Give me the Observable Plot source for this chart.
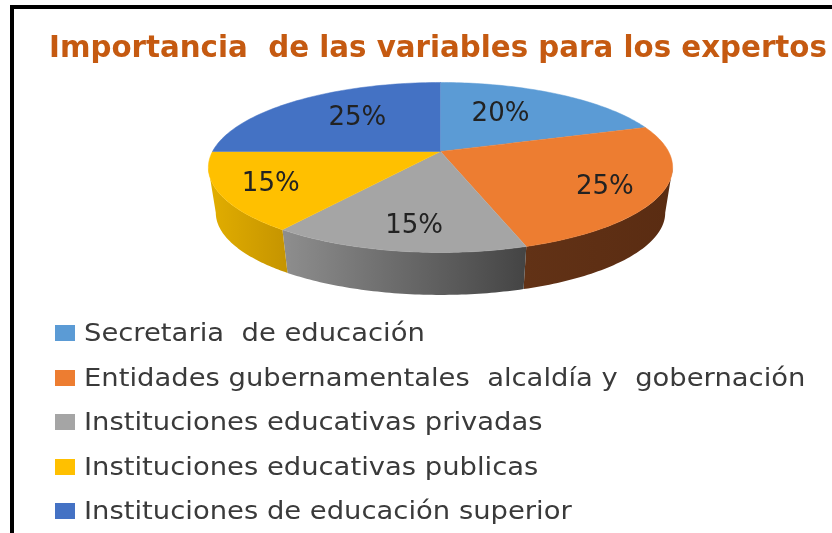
<!DOCTYPE html>
<html lang="es">
<head>
<meta charset="utf-8">
<script src="https://cdn.jsdelivr.net/npm/d3@7"></script>
<script src="https://cdn.jsdelivr.net/npm/@observablehq/plot@0.6"></script>
<style>
  html, body { margin: 0; padding: 0; background: #fff; overflow: hidden; }
  #page { position: relative; width: 832px; height: 533px; overflow: hidden; background: #fff; font-family: "DejaVu Sans", sans-serif; filter: blur(0.35px); }
  #barTop { position: absolute; left: 10px; right: 0; top: 5px; height: 4px; background: #000; z-index: 2; }
  #barLeft { position: absolute; left: 10px; top: 5px; bottom: 0; width: 4px; background: #000; z-index: 2; }
  #title { height: 66px; box-sizing: border-box; padding: 29px 0 0 49px; font-size: 29.3px; line-height: 36px; font-weight: 700; color: #C55A11; white-space: pre; }
  #chart svg { display: block; }
  #legend { padding-top: 5px; }
  .row { height: 44.5px; display: flex; align-items: center; padding-left: 55px; font-size: 24px; color: #3a3a3a; white-space: pre; }
  .swatch { width: 20px; height: 16px; margin-right: 9px; flex: none; }
  .name { display: inline-block; transform: scaleX(1.142); transform-origin: left center; }
</style>
</head>
<body>
<div id="page">
  <div id="barTop"></div><div id="barLeft"></div>
  <div id="title">Importancia  de las variables para los expertos</div>
  <div id="chart"></div>
  <div id="legend"></div>
</div>
<script>
const categories = [
  "Secretaria  de educación",
  "Entidades gubernamentales  alcaldía y  gobernación",
  "Instituciones educativas privadas",
  "Instituciones educativas publicas",
  "Instituciones de educación superior"
];
const shares = [20, 25, 15, 15, 25];
const sliceColors = ["#5B9BD5", "#ED7D31", "#A5A5A5", "#FFC000", "#4472C4"];
const wallStops = [
  ["#5B9BD5", "#5B9BD5"],
  ["#623216", "#5a2c12"],
  ["#8e8e8e", "#444444"],
  ["#e2ae00", "#c59400"],
  ["#4472C4", "#4472C4"]
];

// Camera of the tilted disc
const tilt = 0.188, lowerScale = 0.968, lowerDrop = -0.557;
const labelReach = [0.6, 0.77, 0.77, 0.78, 0.61];
const labelSweep = [0.4, 0.53, 0.47, 0.5, 0.55];

const total = d3.sum(shares);
const edges = d3.cumsum([0, ...shares]).map(d => d / total * 2 * Math.PI);
const project = (a, r = 1) => {
  const u = r * Math.sin(a), v = r * Math.cos(a), w = 1 + tilt * v;
  return {x: u / w, y: v / w};
};
const arc = (a0, a1) => d3.range(0, 61).map(i => a0 + (a1 - a0) * i / 60);

const tops = categories.flatMap((name, i) => [
  {name, x: 0, y: 0},
  ...arc(edges[i], edges[i + 1]).map(a => ({name, ...project(a)}))
]);

// The side wall shows only between the two silhouette angles of the disc
const silhouette = Math.acos(-tilt);
const wallRange = i => [Math.max(edges[i], silhouette), Math.min(edges[i + 1], 2 * Math.PI - silhouette)];
const wall = i => {
  const [a0, a1] = wallRange(i);
  const angles = arc(a0, a1);
  const upper = angles.map(a => project(a));
  const lower = upper.map(p => ({x: p.x * lowerScale, y: lowerDrop + p.y * lowerScale}));
  return [...upper, ...lower.reverse()];
};
const visibleWalls = categories.map((_, i) => i).filter(i => wallRange(i)[1] > wallRange(i)[0]);

const labels = shares.map((s, i) => ({
  text: s + "%",
  ...project(edges[i] + (edges[i + 1] - edges[i]) * labelSweep[i], labelReach[i])
}));

const gradients = () => {
  const defs = d3.create("svg:defs");
  wallStops.forEach((stops, i) => {
    const g = defs.append("linearGradient").attr("id", "wall" + i);
    stops.forEach((c, j) => g.append("stop").attr("offset", j).attr("stop-color", c));
  });
  return defs.node();
};

const plot = Plot.plot({
  width: 832,
  height: 240,
  margin: 0,
  x: {domain: [-1, 1], range: [212, 668], axis: null},
  y: {domain: [-1, 1], range: [167, 3], axis: null},
  color: {domain: categories, range: sliceColors},
  marks: [
    gradients,
    ...visibleWalls.map(i => Plot.line(wall(i), {
      x: "x", y: "y", fill: `url(#wall${i})`, stroke: "none"
    })),
    Plot.line(tops, {x: "x", y: "y", z: "name", fill: "name", stroke: "name", strokeWidth: 0.5}),
    Plot.text(labels, {
      x: "x", y: "y", text: "text", fontSize: 26, fill: "#222",
      fontFamily: "DejaVu Sans, sans-serif"
    })
  ]
});
document.getElementById("chart").append(plot);

const legend = d3.select("#legend");
categories.forEach((name, i) => {
  const row = legend.append("div").attr("class", "row");
  row.append("span").attr("class", "swatch").style("background", sliceColors[i]);
  row.append("span").attr("class", "name").text(name);
});
</script>
</body>
</html>
